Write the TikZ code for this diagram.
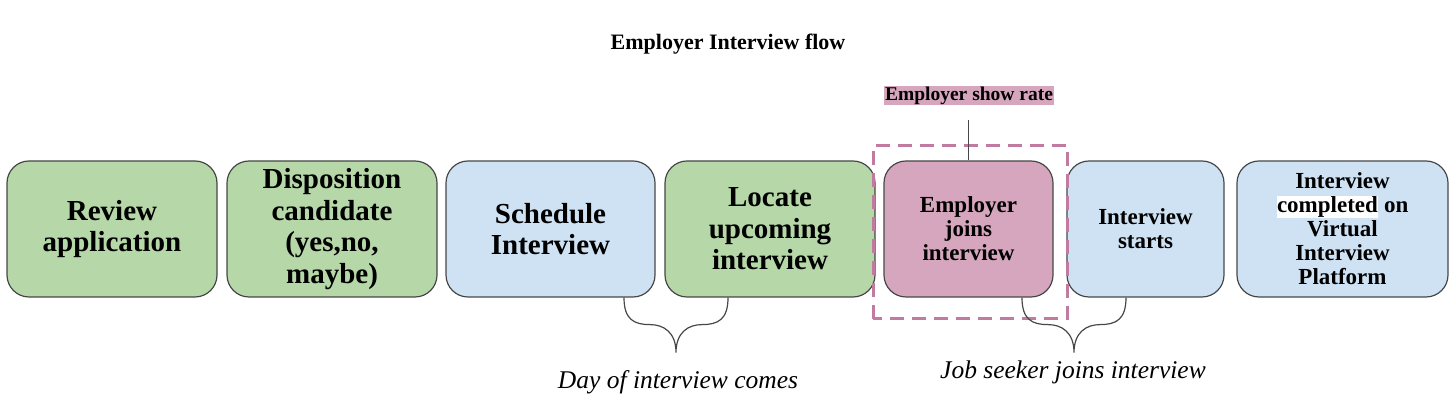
\documentclass[tikz,border=0pt]{standalone}
\usepackage{fontspec}
\setmainfont{Liberation Serif}
\usetikzlibrary{positioning,calc}
\definecolor{stepgreen}{HTML}{B6D7A8}
\definecolor{stepblue}{HTML}{CFE2F3}
\definecolor{steppink}{HTML}{D5A6BD}
\definecolor{dashpink}{HTML}{C27BA0}
\definecolor{edgegray}{HTML}{474747}
\begin{document}
\begin{tikzpicture}[x=1pt,y=1pt]
    \tikzstyle{block} = [rectangle, draw=edgegray, line width=1.2pt,
        rounded corners=22pt, align=center, minimum height=136pt, inner sep=2pt]
    \tikzstyle{big} = [block, minimum width=210pt,
        font=\bfseries\fontsize{29}{31.5}\selectfont]
    \tikzstyle{small} = [block, font=\bfseries\fontsize{23}{24}\selectfont]
    \tikzstyle{line} = [draw=edgegray, line width=1.2pt]
    \tikzstyle{showbox} = [draw=dashpink, line width=3pt, dash pattern=on 14pt off 8pt]
    \tikzstyle{note} = [anchor=base, font=\itshape\fontsize{25.5}{28}\selectfont]

    \useasboundingbox (0,0) rectangle (1456,406);
    \node [font=\bfseries\fontsize{22}{24}\selectfont] (title) at (728,362) {Employer Interview flow};

    \node [big, fill=stepgreen] (review) at (112,177) {Review\\application};
    \node [big, fill=stepgreen, right of=review, node distance=220pt] (dispo)
        {Disposition\\candidate\\(yes,no,\\maybe)};
    \node [big, fill=stepblue, minimum width=209pt, right of=dispo, node distance=218.5pt] (sched)
        {Schedule\\Interview};
    \node [big, fill=stepgreen, right of=sched, node distance=219.5pt] (locate)
        {Locate\\upcoming\\interview};
    \node [small, fill=steppink, minimum width=169pt, right of=locate, node distance=198.5pt] (employer)
        {Employer\\joins\\interview};
    \node [small, fill=stepblue, minimum width=157pt, right of=employer, node distance=177pt] (starts)
        {Interview\\starts};
    \node [small, fill=stepblue, minimum width=211pt, right of=starts, node distance=197pt] (done)
        {Interview\\{\setlength{\fboxsep}{0.5pt}\colorbox{white}{completed}} on\\Virtual\\Interview\\Platform};
    %
    \draw [showbox] ($(employer.south west)+(-10,-21)$) rectangle ($(employer.north east)+(14,15)$);
    \node [fill=steppink, inner sep=1pt, font=\bfseries\fontsize{19.5}{21}\selectfont] (rate)
        at (969,310.5) {Employer show rate};
    \coordinate [above=40pt of employer.north] (ratefoot);
    \path [line] (ratefoot) -- (employer.north);
    %
    \coordinate [right=73.5pt of sched.south] (dayL);
    \coordinate [left=42pt of locate.south] (dayR);
    \coordinate (daytip) at ($(dayL)!0.5!(dayR)+(0,-55)$);
    \path [line] (dayL) .. controls +(0,-22) and +(-16,0) .. ($(dayL)+(26,-27)$)
        .. controls +(14,0) and +(0,20) .. (daytip)
        .. controls +(0,20) and +(-14,0) .. ($(dayR)+(-26,-27)$)
        .. controls +(16,0) and +(0,-22) .. (dayR);
    \node [note] (daylabel) at ($(daytip)+(2,-36)$) {Day of interview comes};
    %
    \coordinate [right=53.5pt of employer.south] (joinL);
    \coordinate [left=19.5pt of starts.south] (joinR);
    \coordinate (jointip) at ($(joinL)!0.5!(joinR)+(0,-55)$);
    \path [line] (joinL) .. controls +(0,-22) and +(-16,0) .. ($(joinL)+(26,-27)$)
        .. controls +(14,0) and +(0,20) .. (jointip)
        .. controls +(0,20) and +(-14,0) .. ($(joinR)+(-26,-27)$)
        .. controls +(16,0) and +(0,-22) .. (joinR);
    \node [note] (joinlabel) at ($(jointip)+(-1,-26)$) {Job seeker joins interview};

\end{tikzpicture}
\end{document}
